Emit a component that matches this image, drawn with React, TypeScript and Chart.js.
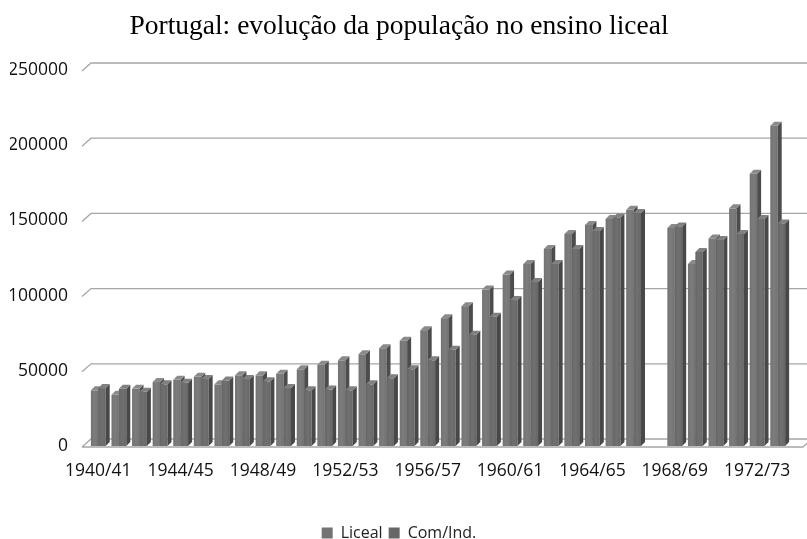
import React, { useEffect, useRef } from "react";
import { Chart, registerables } from "chart.js";

Chart.register(...registerables);

const categories = [
  "1940/41", "1941/42", "1942/43", "1943/44", "1944/45", "1945/46", "1946/47", "1947/48",
  "1948/49", "1949/50", "1950/51", "1951/52", "1952/53", "1953/54", "1954/55", "1955/56",
  "1956/57", "1957/58", "1958/59", "1959/60", "1960/61", "1961/62", "1962/63", "1963/64",
  "1964/65", "1965/66", "1966/67", "1967/68", "1968/69", "1969/70", "1970/71", "1971/72",
  "1972/73", "1973/74",
];

const liceal = [
  37000, 34000, 38000, 42500, 44000, 46000, 41000, 47000,
  47000, 48000, 51000, 54000, 57000, 61000, 65000, 70000,
  77000, 85000, 93000, 104000, 114000, 121000, 131000, 141000,
  147000, 151000, 157000, null, 145000, 121000, 138000, 158000,
  181000, 213000,
];

const comInd = [
  38500, 38000, 36000, 41000, 42000, 44500, 43500, 44500,
  43000, 38500, 37000, 37500, 37000, 41000, 45000, 51000,
  57000, 64000, 74000, 86000, 97000, 109000, 121000, 131000,
  143000, 152000, 155000, null, 146000, 129000, 137000, 141000,
  151000, 148000,
];

const seriesNames = ["Liceal", "Com/Ind."];
const yMax = 250000;
const yStep = 50000;
const labelEvery = 4;
const titleText = "Portugal: evolução da população no ensino liceal";

const FRONT = ["#737373", "#676767"];
const SIDE = ["#4c4c4c", "#484848"];
const TOP = ["#8a8a8a", "#808080"];

const DX = 4;
const DY = 4;
const FX = 9;
const FY = 8;

const threeD = {
  id: "threeD",
  beforeDatasetsDraw(chart: any) {
    const { ctx, chartArea } = chart;
    const ys = chart.scales.y;
    const L = chartArea.left;
    const R = chartArea.right;
    const W = chart.width;
    ctx.save();
    ctx.strokeStyle = "#a6a6a6";
    ctx.lineWidth = 1.3;
    for (const t of ys.ticks) {
      const y = ys.getPixelForValue(t.value);
      ctx.beginPath();
      ctx.moveTo(L - 6, y + 1);
      ctx.lineTo(L - 6 + FX, y + 1 - FY);
      ctx.lineTo(W, y + 1 - FY);
      ctx.stroke();
    }
    const b = ys.getPixelForValue(0) + 1;
    ctx.beginPath();
    ctx.moveTo(L - 6, b);
    ctx.lineTo(R + 15, b);
    ctx.lineTo(R + 15 + FX, b - FY);
    ctx.stroke();
    ctx.restore();
  },
  beforeDatasetDraw() {
    return false;
  },
  afterDatasetsDraw(chart: any) {
    const { ctx } = chart;
    const metas = [chart.getDatasetMeta(0), chart.getDatasetMeta(1)];
    const n = categories.length;
    ctx.save();
    for (let i = 0; i < n; i++) {
      for (let d = 0; d < 2; d++) {
        const el: any = metas[d].data[i];
        const raw = chart.data.datasets[d].data[i];
        if (!el || raw === null || raw === undefined) continue;
        const x0 = el.x - el.width / 2;
        const x1 = el.x + el.width / 2;
        const top = el.y;
        const base = el.base;
        const g = ctx.createLinearGradient(x0, 0, x1, 0);
        g.addColorStop(0, FRONT[d]);
        g.addColorStop(0.5, d === 0 ? "#7c7c7c" : "#707070");
        g.addColorStop(1, FRONT[d]);
        ctx.fillStyle = g;
        ctx.fillRect(x0, top, x1 - x0, base - top);
        ctx.fillStyle = SIDE[d];
        ctx.beginPath();
        ctx.moveTo(x1, top);
        ctx.lineTo(x1 + DX, top - DY);
        ctx.lineTo(x1 + DX, base - DY);
        ctx.lineTo(x1, base);
        ctx.closePath();
        ctx.fill();
        ctx.fillStyle = TOP[d];
        ctx.beginPath();
        ctx.moveTo(x0, top);
        ctx.lineTo(x1, top);
        ctx.lineTo(x1 + DX, top - DY);
        ctx.lineTo(x0 + DX, top - DY);
        ctx.closePath();
        ctx.fill();
      }
    }
    ctx.restore();
  },
};

export default function App() {
  const ref = useRef<HTMLCanvasElement | null>(null);
  useEffect(() => {
    if (!ref.current) return;
    const chart = new Chart(ref.current, {
      type: "bar",
      data: {
        labels: categories,
        datasets: [
          { label: seriesNames[0], data: liceal, backgroundColor: FRONT[0], borderWidth: 0 },
          { label: seriesNames[1], data: comInd, backgroundColor: FRONT[1], borderWidth: 0 },
        ],
      },
      options: {
        animation: false,
        responsive: true,
        maintainAspectRatio: false,
        layout: { padding: { left: 10, right: 19, top: 0, bottom: -12 } },
        datasets: { bar: { categoryPercentage: 0.72, barPercentage: 1 } },
        plugins: {
          title: {
            display: true,
            text: titleText,
            color: "#000",
            font: { family: "Liberation Serif", size: 27.5, weight: "normal" },
            padding: { top: 10, bottom: 27 },
          },
          legend: {
            position: "bottom",
            labels: {
              boxWidth: 11,
              boxHeight: 11,
              padding: 6,
              color: "#222",
              font: { family: "Open Sans", size: 16 },
            },
          },
          tooltip: { enabled: false },
        },
        scales: {
          x: {
            grid: { display: false, drawTicks: false },
            border: { display: false },
            ticks: {
              autoSkip: false,
              maxRotation: 0,
              minRotation: 0,
              padding: 15,
              color: "#111",
              font: { family: "Open Sans", size: 17.5 },
              callback: (_v: any, i: number) => (i % labelEvery === 0 ? categories[i] : ""),
            },
            afterFit: (s: any) => {
              s.height = 73;
            },
          },
          y: {
            min: 0,
            max: yMax,
            grid: { display: false, drawTicks: false },
            border: { display: false },
            ticks: {
              stepSize: yStep,
              padding: 20,
              color: "#111",
              font: { family: "Open Sans", size: 17.5 },
              callback: (v: any) => String(v),
            },
            afterFit: (s: any) => {
              s.width = 78;
            },
          },
        },
      },
      plugins: [threeD],
    });
    return () => chart.destroy();
  }, []);
  return (
    <div style={{ position: "fixed", left: 0, top: 0, width: 807, height: 539 }}>
      <canvas ref={ref} />
    </div>
  );
}
